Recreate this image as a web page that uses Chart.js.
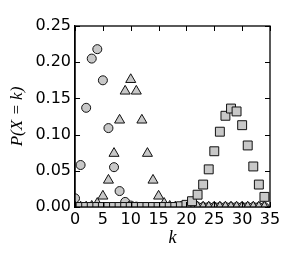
<!DOCTYPE html>
<html>
<head>
<meta charset="utf-8">
<script src="https://cdn.jsdelivr.net/npm/chart.js@4/dist/chart.umd.min.js"></script>
<style>
html,body{margin:0;padding:0;background:#fff;}
#c{display:block;}
</style>
</head>
<body>
<canvas id="c" width="300" height="260"></canvas>
<script>
// k values
const kValues = [0,1,2,3,4,5,6,7,8,9,10,11,12,13,14,15,16,17,18,19,20,21,22,23,24,25,26,27,28,29,30,31,32,33,34];
// circles
const circleP = [0.012,0.058,0.137,0.205,0.218,0.175,0.109,0.055,0.022,0.007,0.002,0.0005,0,0,0,0,0,0,0,0,0,0,0,0,0,0,0,0,0,0,0,0,0,0,0];
// triangles
const triangleP = [0,0,0,0.001,0.005,0.015,0.037,0.074,0.120,0.160,0.176,0.160,0.120,0.074,0.037,0.015,0.005,0.001,0,0,0,0,0,0,0,0,0,0,0,0,0,0,0,0,0];
// squares
const squareP = [0,0,0,0,0,0,0,0,0,0,0,0,0,0,0,0,0,0,0,0.001,0.003,0.008,0.017,0.031,0.052,0.077,0.104,0.126,0.136,0.132,0.113,0.085,0.056,0.031,0.014];
const xTickValues = [0,5,10,15,20,25,30,35];
const yTickValues = [0.00,0.05,0.10,0.15,0.20,0.25];
const xLabel = 'k';
const yLabel = 'P(X = k)';

function pts(arr){ return kValues.map((k,i)=>({x:k,y:arr[i]})); }

const fillC = '#c8c8c8';
const edgeC = '#111111';

const frame = {
  id:'axframe',
  beforeDatasetsDraw(chart){
    const ctx = chart.ctx, a = chart.chartArea;
    ctx.save();
    ctx.beginPath();
    ctx.rect(a.left, a.top, a.right-a.left, a.bottom-a.top);
    ctx.clip();
  },
  afterDatasetsDraw(chart){
    chart.ctx.restore();
  },
  afterDraw(chart){
    const ctx = chart.ctx;
    const a = chart.chartArea;
    const x = chart.scales.x, y = chart.scales.y;
    ctx.save();
    ctx.strokeStyle = '#000';
    ctx.lineWidth = 1;
    const L = 5;
    ctx.beginPath();
    xTickValues.forEach(v=>{
      const px = Math.round(x.getPixelForValue(v))+0.5;
      ctx.moveTo(px,a.bottom); ctx.lineTo(px,a.bottom-L);
      ctx.moveTo(px,a.top); ctx.lineTo(px,a.top+L);
    });
    yTickValues.forEach(v=>{
      const py = Math.round(y.getPixelForValue(v))+0.5;
      ctx.moveTo(a.left,py); ctx.lineTo(a.left+L,py);
      ctx.moveTo(a.right,py); ctx.lineTo(a.right-L,py);
    });
    ctx.stroke();
    ctx.lineWidth = 1.3;
    ctx.strokeRect(a.left, a.top, a.right-a.left, a.bottom-a.top);
    ctx.restore();
  }
};

const tickFont = {family:'DejaVu Sans', size:16};

new Chart(document.getElementById('c'), {
  type:'scatter',
  data:{
    datasets:[
      {label:'circles', data:pts(circleP), pointStyle:'circle', pointRadius:4.5, pointBackgroundColor:fillC, pointBorderColor:edgeC, pointBorderWidth:1, order:3},
      {label:'triangles', data:pts(triangleP), pointStyle:'triangle', pointRadius:5.8, pointBackgroundColor:fillC, pointBorderColor:edgeC, pointBorderWidth:1, order:2},
      {label:'squares', data:pts(squareP), pointStyle:'rect', pointRadius:6.3, pointBackgroundColor:fillC, pointBorderColor:edgeC, pointBorderWidth:1, order:1}
    ]
  },
  options:{
    responsive:false,
    devicePixelRatio:1,
    animation:false,
    layout:{padding:{left:0,top:26,right:30,bottom:0}},
    plugins:{legend:{display:false}, tooltip:{enabled:false}},
    scales:{
      x:{
        type:'linear', min:0, max:35,
        grid:{display:true, drawOnChartArea:false, drawTicks:false, color:'rgba(0,0,0,0)'},
        border:{display:true, color:'#000', width:1.3},
        ticks:{font:tickFont, color:'#000', stepSize:5, padding:3, maxRotation:0},
        title:{display:true, text:xLabel, color:'#000', font:{family:'Liberation Serif', size:18, style:'italic'}, padding:{top:-4.5, bottom:10.7}}
      },
      y:{
        type:'linear', min:0, max:0.25,
        grid:{display:true, drawOnChartArea:false, drawTicks:false, color:'rgba(0,0,0,0)'},
        border:{display:true, color:'#000', width:1.3},
        ticks:{font:tickFont, color:'#000', stepSize:0.05, padding:4, callback:v=>Number(v).toFixed(2)},
        title:{display:true, text:yLabel, color:'#000', font:{family:'Liberation Serif', size:17, style:'italic'}, padding:{top:7, bottom:4}}
      }
    }
  },
  plugins:[frame]
});
</script>
</body>
</html>
